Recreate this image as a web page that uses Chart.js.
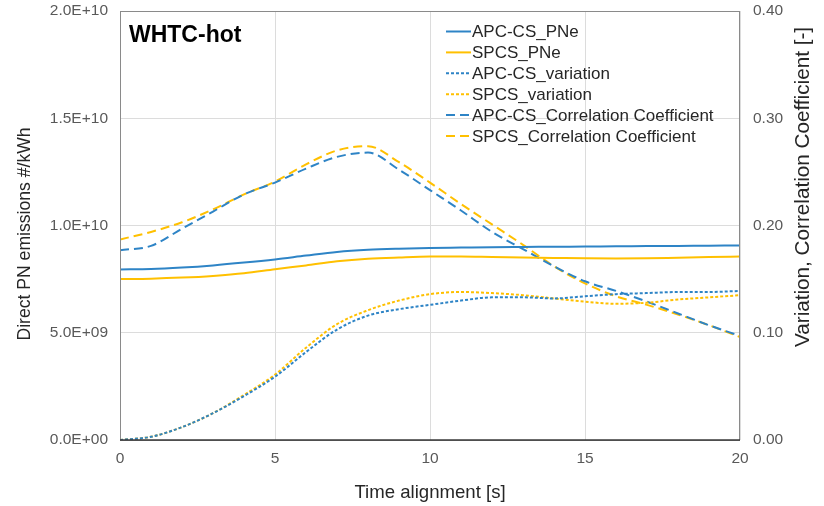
<!DOCTYPE html>
<html>
<head>
<meta charset="utf-8">
<script src="https://cdn.jsdelivr.net/npm/chart.js@4"></script>
<style>
  html, body { margin: 0; padding: 0; background: #fff; }
  #wrap { width: 824px; height: 506px; }
</style>
</head>
<body>
<div id="wrap"><canvas id="pnChart"></canvas></div>
<script>
// Time axis [s]
const timeAlign = [0, 1, 2, 3, 4, 5, 6, 7, 8, 9, 10, 11, 12, 13, 14, 15, 16, 17, 18, 19, 20];

// PN emissions, #/kWh (left axis)
const apcPNe  = [7.95e9, 7.97e9, 8.04e9, 8.14e9, 8.27e9, 8.42e9, 8.60e9, 8.77e9, 8.87e9, 8.92e9, 8.95e9,
                 8.97e9, 8.99e9, 9.00e9, 9.01e9, 9.02e9, 9.03e9, 9.04e9, 9.05e9, 9.06e9, 9.07e9];
const spcsPNe = [7.50e9, 7.52e9, 7.57e9, 7.65e9, 7.77e9, 7.96e9, 8.14e9, 8.33e9, 8.45e9, 8.51e9, 8.55e9,
                 8.55e9, 8.53e9, 8.51e9, 8.49e9, 8.47e9, 8.46e9, 8.47e9, 8.50e9, 8.53e9, 8.55e9];

// variation [-] (right axis)
const apcVar  = [0, 0.003, 0.012, 0.025, 0.041, 0.059, 0.082, 0.103, 0.116, 0.122, 0.126,
                 0.130, 0.133, 0.133, 0.132, 0.134, 0.136, 0.137, 0.138, 0.138, 0.139];
const spcsVar = [0, 0.003, 0.012, 0.025, 0.042, 0.061, 0.086, 0.108, 0.121, 0.130, 0.136,
                 0.138, 0.137, 0.135, 0.132, 0.129, 0.127, 0.128, 0.131, 0.133, 0.135];

// correlation coefficient [-] (right axis)
const apcCorr  = [0.177, 0.181, 0.197, 0.213, 0.229, 0.240, 0.253, 0.264, 0.268, 0.252, 0.233,
                  0.214, 0.194, 0.178, 0.162, 0.148, 0.139, 0.129, 0.118, 0.107, 0.097];
const spcsCorr = [0.187, 0.194, 0.203, 0.215, 0.229, 0.241, 0.257, 0.270, 0.274, 0.259, 0.240,
                  0.220, 0.201, 0.182, 0.162, 0.146, 0.134, 0.126, 0.117, 0.107, 0.096];

const xTicks = [0, 5, 10, 15, 20];

const BLUE = '#2E84C6';
const GOLD = '#FFC000';
const FONT = '"Liberation Sans", Arial, sans-serif';

const pts = (ys) => ys.map((y, i) => ({ x: timeAlign[i], y }));

function sci(v) {
  if (v === 0) return '0.0E+00';
  const [m, e] = v.toExponential(1).split('e');
  const n = parseInt(e, 10);
  return m + 'E' + (n < 0 ? '-' : '+') + String(Math.abs(n)).padStart(2, '0');
}

// fixed axis boxes so the plot sits where the original does
const fitY = (w) => (s) => { s.width = w; s.paddingTop = 11; s.paddingBottom = 0; };

// frame around plot + panel label + legend inside the plot
const framePlugin = {
  id: 'frame',
  afterDraw(chart) {
    const { ctx, chartArea: a } = chart;
    ctx.save();
    ctx.strokeStyle = '#8a8a8a';
    ctx.lineWidth = 1;
    ctx.strokeRect(a.left + 0.5, a.top + 0.5, a.right - a.left - 1, a.bottom - a.top);
    ctx.strokeStyle = '#3a3a3a';
    ctx.lineWidth = 1.5;
    ctx.beginPath();
    ctx.moveTo(a.left, a.bottom);
    ctx.lineTo(a.right, a.bottom);
    ctx.stroke();

    ctx.fillStyle = '#000';
    ctx.font = 'bold 23px ' + FONT;
    ctx.textBaseline = 'alphabetic';
    ctx.fillText('WHTC-hot', a.left + 9, a.top + 31);

    ctx.font = '17px ' + FONT;
    ctx.textBaseline = 'middle';
    chart.data.datasets.forEach((ds, i) => {
      const y = a.top + 20.5 + i * 20.9;
      ctx.strokeStyle = ds.borderColor;
      ctx.lineWidth = 2;
      ctx.setLineDash(ds.borderDash || []);
      ctx.beginPath();
      ctx.moveTo(446, y);
      ctx.lineTo(471, y);
      ctx.stroke();
      ctx.setLineDash([]);
      ctx.fillStyle = '#262626';
      ctx.fillText(ds.label, 472, y + 1);
    });

    // vertical axis titles
    ctx.fillStyle = '#262626';
    ctx.textAlign = 'center';
    ctx.font = '17.6px ' + FONT;
    ctx.save();
    ctx.translate(25, 234);
    ctx.rotate(-Math.PI / 2);
    ctx.fillText('Direct PN emissions #/kWh', 0, 0);
    ctx.restore();
    ctx.font = '20.7px ' + FONT;
    ctx.save();
    ctx.translate(803, 187);
    ctx.rotate(-Math.PI / 2);
    ctx.fillText('Variation, Correlation Coefficient [-]', 0, 0);
    ctx.restore();
    ctx.restore();
  }
};

const ctxEl = document.getElementById('pnChart');
new Chart(ctxEl, {
  type: 'line',
  data: {
    datasets: [
      { label: 'APC-CS_PNe', data: pts(apcPNe), borderColor: BLUE, yAxisID: 'yPN' },
      { label: 'SPCS_PNe', data: pts(spcsPNe), borderColor: GOLD, yAxisID: 'yPN' },
      { label: 'APC-CS_variation', data: pts(apcVar), borderColor: BLUE, borderDash: [3, 2], yAxisID: 'yR' },
      { label: 'SPCS_variation', data: pts(spcsVar), borderColor: GOLD, borderDash: [3, 2], yAxisID: 'yR' },
      { label: 'APC-CS_Correlation Coefficient', data: pts(apcCorr), borderColor: BLUE, borderDash: [9, 5], yAxisID: 'yR' },
      { label: 'SPCS_Correlation Coefficient', data: pts(spcsCorr), borderColor: GOLD, borderDash: [9, 5], yAxisID: 'yR' },
    ],
  },
  options: {
    responsive: true,
    maintainAspectRatio: false,
    animation: false,
    layout: { padding: 0 },
    elements: {
      point: { radius: 0 },
      line: { borderWidth: 2, cubicInterpolationMode: 'monotone', fill: false },
    },
    plugins: {
      legend: { display: false },
      tooltip: { enabled: false },
    },
    scales: {
      x: {
        type: 'linear',
        min: 0,
        max: 20,
        afterBuildTicks: (s) => { s.ticks = xTicks.map((v) => ({ value: v })); },
        afterFit: (s) => { s.height = 66; },
        grid: { color: '#dcdcdc', drawTicks: false },
        border: { display: false },
        ticks: { padding: 9, color: '#595959', font: { family: FONT, size: 15.5 } },
        title: {
          display: true,
          text: 'Time alignment [s]',
          color: '#262626',
          font: { family: FONT, size: 18.6 },
          padding: { top: 0, bottom: 2 },
        },
      },
      yPN: {
        position: 'left',
        min: 0,
        max: 2e10,
        ticks: { stepSize: 5e9, padding: 12, color: '#595959', font: { family: FONT, size: 15.5 }, callback: (v) => sci(v) },
        afterFit: fitY(120),
        grid: { color: '#dcdcdc', drawTicks: false },
        border: { display: false },
      },
      yR: {
        position: 'right',
        min: 0,
        max: 0.4,
        ticks: { stepSize: 0.1, padding: 13, color: '#595959', font: { family: FONT, size: 15.5 }, callback: (v) => v.toFixed(2) },
        afterFit: fitY(84),
        grid: { display: false, drawTicks: false },
        border: { display: false },
      },
    },
  },
  plugins: [framePlugin],
});
</script>
</body>
</html>
